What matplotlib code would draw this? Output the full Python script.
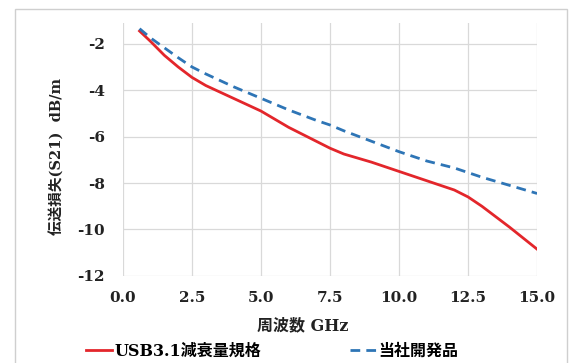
import matplotlib
matplotlib.use("Agg")
import matplotlib.pyplot as plt
from matplotlib.patches import Rectangle

# USB3.1 attenuation spec (red)
spec_freq = [0.6, 1.0, 1.5, 2.0, 2.5, 3.0, 4.0, 5.0, 6.0, 7.0, 7.5, 8.0,
             9.0, 10.0, 11.0, 12.0, 12.5, 13.0, 14.0, 15.0]
spec_loss = [-1.45, -1.9, -2.5, -3.0, -3.45, -3.8, -4.35, -4.9, -5.6, -6.2,
             -6.5, -6.75, -7.1, -7.5, -7.9, -8.3, -8.6, -9.0, -9.9, -10.85]

# our developed product (blue dashed)
prod_freq = [0.6, 1.0, 2.0, 2.5, 3.0, 4.0, 5.0, 6.0, 7.0, 7.5, 8.0, 9.0,
             10.0, 11.0, 12.0, 12.5, 13.0, 14.0, 15.0]
prod_loss = [-1.35, -1.75, -2.6, -3.0, -3.3, -3.85, -4.35, -4.85, -5.3,
             -5.5, -5.75, -6.2, -6.65, -7.05, -7.35, -7.55, -7.75, -8.1, -8.45]

x_ticks = [0.0, 2.5, 5.0, 7.5, 10.0, 12.5, 15.0]
y_ticks = [-2, -4, -6, -8, -10, -12]

FAM = ["DejaVu Serif", "Noto Sans CJK JP"]

fig = plt.figure(figsize=(5.72, 3.63), dpi=100)
ax = fig.add_axes([0.215, 0.24, 0.724, 0.697])

ax.plot(spec_freq, spec_loss, color="#e3262b", lw=2.0, label="USB3.1減衰量規格")
ax.plot(prod_freq, prod_loss, color="#2e75b6", lw=2.0, ls=(0, (3.5, 2.2)),
        label="当社開発品")

ax.set_xlim(0, 15)
ax.set_ylim(-12, -1.1)
ax.set_xticks(x_ticks)
ax.set_yticks(y_ticks)
ax.set_xticklabels(["%.1f" % v for v in x_ticks], family=FAM,
                   fontweight="bold", fontsize=11)
ax.set_yticklabels([str(v) for v in y_ticks], family=FAM,
                   fontweight="bold", fontsize=11)
ax.tick_params(length=0, pad=11, colors="#222222")
ax.tick_params(axis="y", pad=13)
ax.grid(True, color="#d9d9d9", lw=0.9)
for s in ax.spines.values():
    s.set_visible(False)

ax.set_xlabel("周波数 GHz", family=FAM, fontweight="bold", fontsize=11.5,
              color="#222222")
ax.xaxis.set_label_coords(0.435, -0.165)
ax.set_ylabel("伝送損失(S21)  dB/m", family=FAM, fontweight="bold",
              fontsize=10.5, color="#222222")
ax.yaxis.set_label_coords(-0.14, 0.47)

fig.legend(loc="lower center", bbox_to_anchor=(0.476, -0.03), ncol=2,
           frameon=False, columnspacing=5.6, handlelength=1.6, handletextpad=0.15,
           prop={"family": FAM, "weight": "bold", "size": 11.5})

fig.patches.append(Rectangle((0.026, -0.05), 0.965, 1.025, transform=fig.transFigure,
                             fill=False, edgecolor="#cfcfcf", lw=1.0))

fig.savefig("out.png", dpi=100)
